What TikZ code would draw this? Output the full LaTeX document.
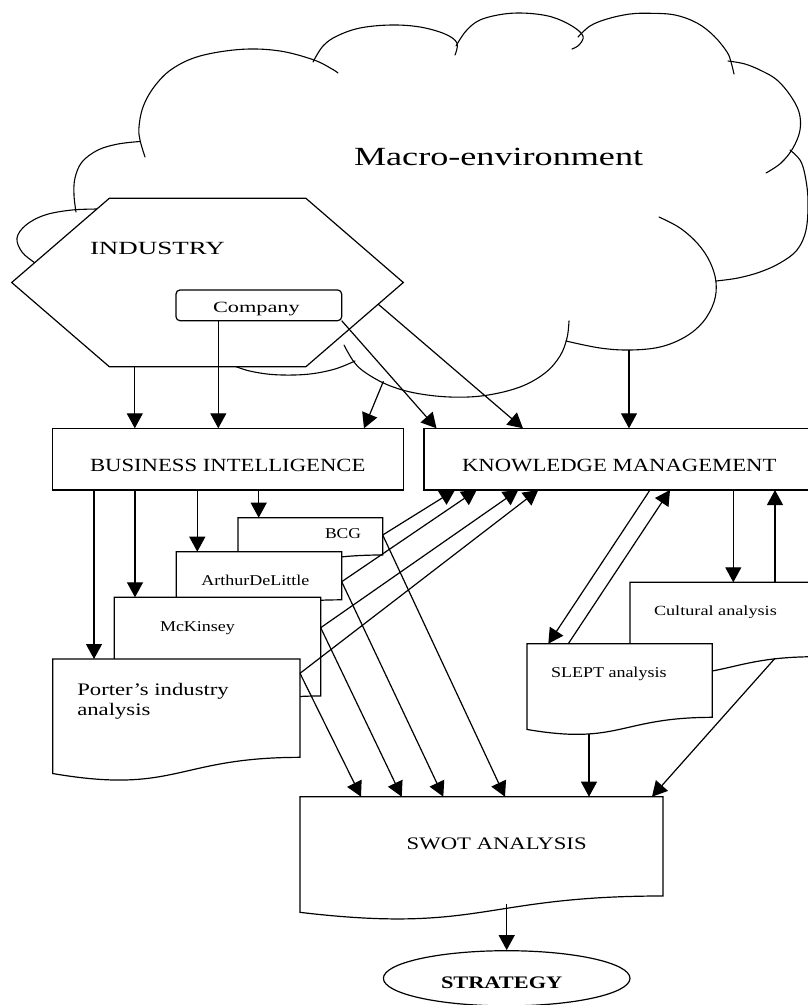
\documentclass[tikz,border=0pt]{standalone}
\usepackage{fontspec}
\setmainfont{Liberation Serif}
\usepackage{graphicx}
\usetikzlibrary{arrows.meta,calc,shapes.geometric}

% text at a given size, stretched horizontally
\newcommand\wtext[3]{{\fontsize{#1pt}{#1pt}\selectfont\scalebox{#2}[1]{#3}}}

\tikzset{
  arr/.style={line width=1.2pt,-{Triangle[length=15pt,width=16pt]}},
  frame/.style={draw, line width=1.2pt, fill=white, rectangle, inner sep=0pt, outer sep=0pt},
  docframe/.style={rectangle, inner sep=0pt, outer sep=0pt},
  lbl/.style={anchor=base west, inner sep=0pt, outer sep=0pt},
  cloudline/.style={line width=1.1pt, line cap=round},
  docline/.style={line width=1.2pt, fill=white},
}

% flowchart "document" outline with a wavy bottom edge, drawn on a named node
\newcommand\docoutline[1]{%
  \filldraw[docline] (#1.north west) -- (#1.north east)
    -- ($(#1.north east)!0.802!(#1.south east)$)
    .. controls ($(#1.north)!0.802!(#1.south)$) and ($(#1.north)!1.1075!(#1.south)$) ..
    ($(#1.north west)!0.934!(#1.south west)$) -- cycle;}

\begin{document}
\begin{tikzpicture}[x=1pt,y=-1pt]
\fill[white] (0,0) rectangle (807,1005);
\useasboundingbox (0,0) rectangle (807,1005);

% ---------------- macro-environment cloud ----------------
\draw[cloudline] plot[smooth, tension=0.6] coordinates {(100,209) (72,210) (45,215) (26,225) (17,238) (22,252) (35,263) (45,270)};
\draw[cloudline] plot[smooth, tension=0.6] coordinates {(76,212) (74,195) (75,178) (82,162) (98,150) (118,144) (140,141.5)};
\draw[cloudline] plot[smooth, tension=0.6] coordinates {(145,157) (140,140) (139,127) (143,107) (154,87) (172,69) (200,56) (242,49.3) (280,51) (314,60) (332,69) (338,73)};
\draw[cloudline] plot[smooth, tension=0.6] coordinates {(313,62) (323,46) (337,36) (360,28) (391,25) (420,27) (445,34) (457,43) (455,55)};
\draw[cloudline] plot[smooth, tension=0.6] coordinates {(456,46) (466,31) (480,20) (504,14) (528,13.3) (552,17) (572,26) (583,36) (579,45) (572,49)};
\draw[cloudline] plot[smooth, tension=0.6] coordinates {(578,37) (590,26) (607,19) (630,14) (651,13.3) (675,15) (697,23) (714,36) (727,52) (731,62) (734,74)};
\draw[cloudline] plot[smooth, tension=0.6] coordinates {(728,61) (745,64) (762,71) (777,80) (790,95) (799,112) (800,130) (793,148) (781,163) (766,173)};
\draw[cloudline] plot[smooth, tension=0.6] coordinates {(790,150) (800,160) (805,175) (808,200) (806,230) (797,250) (780,263) (760,272) (738,278) (716,281)};
\draw[cloudline] plot[smooth, tension=0.6] coordinates {(659,217) (680,228) (698,244) (710,262) (716,282) (714,302) (703,322) (685,337) (660,347) (630,350) (600,348) (566,341)};
\draw[cloudline] plot[smooth, tension=0.6] coordinates {(569,321) (567,338) (560,356) (545,373) (520,387) (485,395.5) (450,397) (415,393) (388,385) (366,373) (354,362) (344,345)};
\draw[cloudline] plot[smooth, tension=0.6] coordinates {(200,350) (237,367) (260,373) (283,375) (310,374) (335,369) (355,361)};
\node[lbl] (tmacro) at (354,165) {\wtext{26.2}{1.38}{Macro-environment}};
\coordinate (cloudbi) at (383.4,381.3);
\coordinate (cloudkm) at (629,350);

% ---------------- industry hexagon and company ----------------
\node[docframe, minimum width=391.6pt, minimum height=168.4pt] (ind) at (207.5,282.5) {};
\filldraw[docline] (ind.west) -- ($(ind.north west)+(97.6,0)$) -- ($(ind.north east)+(-97.4,0)$)
  -- (ind.east) -- ($(ind.south east)+(-97.4,0)$) -- ($(ind.south west)+(97.6,0)$) -- cycle;
\node[lbl] (tind) at (90,254) {\wtext{18.6}{1.45}{INDUSTRY}};
\coordinate (indkm) at (378,304);
\node[frame, rounded corners=4pt, minimum width=165.7pt, minimum height=30.7pt] (company) at (258.85,305.35) {};
\node[lbl] (tcompany) at (213,312) {\wtext{15.6}{1.43}{Company}};

% ---------------- business intelligence and knowledge management ----------------
\node[frame, minimum width=350.6pt, minimum height=61.7pt] (bi) at (228,459.15) {};
\node[lbl] (tbi) at (90,471.7) {\wtext{18.6}{1.22}{BUSINESS INTELLIGENCE}};
\node[frame, minimum width=388pt, minimum height=61.7pt] (km) at (618,459.15) {};
\node[lbl] (tkm) at (462,471.7) {\wtext{18.6}{1.22}{KNOWLEDGE MANAGEMENT}};

% ---------------- analysis documents ----------------
\node[docframe, minimum width=144.7pt, minimum height=46.5pt] (bcg) at (310.35,540.95) {};
\docoutline{bcg}
\node[lbl] (tbcg) at (325,538.3) {\wtext{15}{1.17}{BCG}};
\node[docframe, minimum width=165.4pt, minimum height=60pt] (arthur) at (259,581.7) {};
\docoutline{arthur}
\node[lbl] (tarthur) at (201.3,585.7) {\wtext{15}{1.2}{ArthurDeLittle}};
\node[docframe, minimum width=206.4pt, minimum height=123pt] (mck) at (217.5,658.8) {};
\docoutline{mck}
\node[lbl] (tmck) at (160,631.7) {\wtext{15}{1.2}{McKinsey}};
\node[docframe, minimum width=247.3pt, minimum height=122.6pt] (porter) at (176.35,720.3) {};
\docoutline{porter}
\node[lbl] (tporter) at (77.3,695) {\wtext{17.6}{1.29}{Porter’s industry}};
\node[lbl] (tporterb) at (77.3,715) {\wtext{17.6}{1.29}{analysis}};

\node[docframe, minimum width=185pt, minimum height=92.8pt] (cult) at (722.5,628.7) {};
\docoutline{cult}
\node[lbl] (tcult) at (654,615) {\wtext{14}{1.3}{Cultural analysis}};
\node[docframe, minimum width=185.3pt, minimum height=91.8pt] (slept) at (619.65,689.6) {};
\docoutline{slept}
\node[lbl] (tslept) at (551,677.3) {\wtext{15}{1.2}{SLEPT analysis}};

\node[docframe, minimum width=363pt, minimum height=123.8pt] (swot) at (481.5,858.6) {};
\docoutline{swot}
\node[lbl] (tswot) at (406.7,849.3) {\wtext{17.6}{1.29}{SWOT ANALYSIS}};

\node[draw, ellipse, line width=1.2pt, inner sep=0pt, minimum width=246.6pt, minimum height=55.2pt] (strategy) at (506.7,978.3) {};
\node[lbl] (tstrategy) at (441,988.3) {\wtext{17.6}{1.27}{\bfseries STRATEGY}};

% ---------------- connectors ----------------
\draw[arr] (134.8,0 |- ind.south) -- (134.8,0 |- bi.north);
\draw[arr] (218.3,0 |- company.south) -- (218.3,0 |- bi.north);
\draw[arr] (cloudbi) -- (364,0 |- bi.north);
\draw[arr] (company.south east) -- (436.5,0 |- km.north);
\draw[arr] (indkm) -- (523,0 |- km.north);
\draw[arr] (cloudkm) -- (cloudkm |- km.north);

\draw[arr] (94,0 |- bi.south) -- (94,0 |- porter.north);
\draw[arr] (135,0 |- bi.south) -- (135,0 |- mck.north);
\draw[arr] (197.3,0 |- bi.south) -- (197.3,0 |- arthur.north);
\draw[arr] (258.7,0 |- bi.south) -- (258.7,0 |- bcg.north);

\draw[arr] ($(bcg.north east)+(0,17.3)$) -- (455,0 |- km.south);
\draw[arr] (arthur.east) -- (476.7,0 |- km.south);
\draw[arr] ($(mck.north east)+(0,30.4)$) -- (518.3,0 |- km.south);
\draw[arr] ($(porter.north east)+(0,14.3)$) -- (538.3,0 |- km.south);

\draw[arr] ($(bcg.north east)+(0,17.3)$) -- (505,0 |- swot.north);
\draw[arr] (arthur.east) -- (443.3,0 |- swot.north);
\draw[arr] ($(mck.north east)+(0,30.4)$) -- (401.7,0 |- swot.north);
\draw[arr] ($(porter.north east)+(0,14.3)$) -- (361,0 |- swot.north);

\draw[arr] (650,0 |- km.south) -- (548.3,0 |- slept.north);
\draw[arr] (568.3,0 |- slept.north) -- (670,0 |- km.south);
\draw[arr] (733.3,0 |- km.south) -- (733.3,0 |- cult.north);
\draw[arr] (775,0 |- cult.north) -- (775,0 |- km.south);

\draw[arr] ($(slept.north west)+(62,90.1)$) -- (589,0 |- swot.north);
\draw[arr] ($(cult.north west)+(145,76)$) -- (652,0 |- swot.north);
\draw[arr] ($(swot.north west)+(206.7,107.3)$) -- (strategy.north);
\end{tikzpicture}
\end{document}
